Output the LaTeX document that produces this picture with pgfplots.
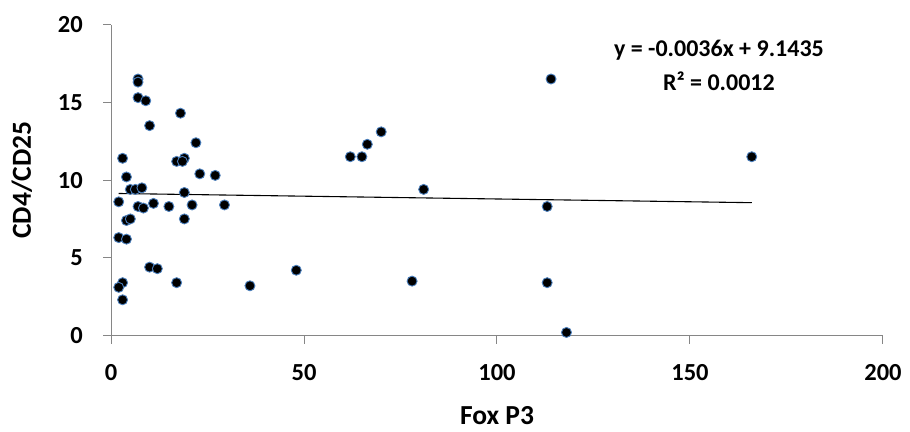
\documentclass[border=0pt]{standalone}
\usepackage{fontspec}
\setmainfont{Carlito}
\usepackage{pgfplots}
\pgfplotsset{compat=1.18}

\definecolor{axisgray}{RGB}{134,134,134}
\definecolor{markedge}{RGB}{74,126,187}

\begin{document}
\begin{tikzpicture}
\begin{axis}[
  scale only axis,
  width=772pt, height=311pt,
  xmin=0, xmax=200, ymin=0, ymax=20,
  xtick={0,50,100,150,200},
  ytick={0,5,10,15,20},
  axis lines*=left,
  axis line style={axisgray, line width=1pt},
  tick align=outside,
  major tick length=8pt,
  tick style={axisgray, line width=1pt},
  /pgf/number format/assume math mode=true,
  ticklabel style={font=\fontsize{24.5}{28}\selectfont\bfseries},
  xticklabel style={anchor=north, inner sep=0pt, yshift=-21pt},
  yticklabel style={anchor=east, inner sep=0pt, xshift=-20pt},
  xlabel={Fox P3},
  ylabel={CD4/CD25},
  label style={font=\fontsize{27.5}{32}\selectfont\bfseries},
  xlabel style={at={(axis cs:100,-5.72)}, anchor=base},
  ylabel style={at={(axis cs:-23.1,10)}, anchor=center},
  clip=false,
]
\addplot[only marks, mark=*, mark size=5pt,
  mark options={fill=black, draw=markedge, line width=0.9pt}] coordinates {
  (3,11.4) (17,11.2) (19,11.4) (18.5,11.2) (23,10.4) (27,10.3) (4,10.2)
  (5,9.4) (6.3,9.4) (8,9.5) (19,9.2) (2,8.6) (7,8.3) (8.4,8.2) (11,8.5)
  (15,8.3) (21,8.4) (29.4,8.4) (4,7.4) (5,7.5) (19,7.5) (2,6.3) (4,6.2)
  (10,4.4) (12,4.3) (48,4.2) (3,3.4) (2,3.1) (17,3.4) (36,3.2) (3,2.3)
  (7,16.5) (7,16.3) (7,15.3) (9,15.1) (18,14.3) (10,13.5) (22,12.4)
  (62,11.5) (65,11.5) (66.4,12.3) (70,13.1) (81,9.4) (78,3.5)
  (114,16.5) (166,11.5) (113,8.3) (113,3.4) (118,0.2)
};
% linear trendline
\addplot[black, line width=1.1pt] coordinates {(2,9.1363) (166,8.5459)};

\node[anchor=base, font=\fontsize{24}{28}\selectfont\bfseries]
  at (axis cs:157.5,17.94) {y = -0.0036x + 9.1435};
\node[anchor=base, font=\fontsize{24}{28}\selectfont\bfseries]
  at (axis cs:157.5,15.74) {R² = 0.0012};

\path (axis cs:-28.76,-6.17) rectangle (axis cs:207,21.58);
\end{axis}
\end{tikzpicture}
\end{document}
